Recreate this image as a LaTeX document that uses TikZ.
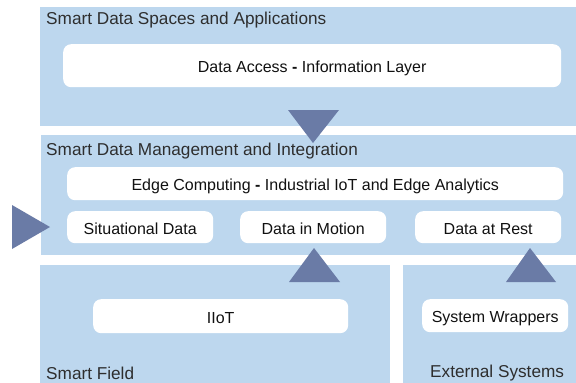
\documentclass[tikz,border=0pt]{standalone}
\usepackage{fontspec}
\setmainfont{Liberation Sans}
\definecolor{panelblue}{HTML}{BDD7EE}
\definecolor{tri}{HTML}{6A7BA6}
\definecolor{headtxt}{HTML}{2E2E2E}
\definecolor{boxtxt}{HTML}{111111}
\begin{document}
\begin{tikzpicture}[x=1pt,y=-1pt,
  panel/.style={fill=panelblue, draw=none, anchor=north west, inner sep=0pt},
  wbox/.style={fill=white, draw=none, rounded corners=8pt, anchor=north west, inner sep=0pt, text height=14pt, text depth=0pt, font=\fontsize{16}{18}\selectfont, text=boxtxt},
  head/.style={anchor=west, inner sep=0pt, font=\fontsize{17.2}{19}\selectfont, text=headtxt},
  arrowtri/.style={fill=tri, draw=none}]
\useasboundingbox (0,0) rectangle (576,383);
% panels
\node[panel, minimum width=536pt, minimum height=119pt] (ptop) at (40,7) {};
\node[panel, minimum width=535pt, minimum height=120pt] (pmid) at (41,135) {};
\node[panel, minimum width=350pt, minimum height=118pt] (pfield) at (40,265) {};
\node[panel, minimum width=173pt, minimum height=118pt] (pext) at (403,265) {};
% headings
\node[head] (htop) at (46,20) {Smart Data Spaces and Applications};
\node[head] (hmid) at (46,151) {Smart Data Management and Integration};
\node[head] (hfield) at (46,373) {Smart Field};
\node[head] (hext) at (430,373) {External Systems};
% boxes
\node[wbox, minimum width=498pt, minimum height=43pt] (access) at (63,44) {Data Access \textbf{-} Information Layer};
\node[wbox, minimum width=496pt, minimum height=33pt] (edge) at (67,167) {Edge Computing \textbf{-} Industrial IoT and Edge Analytics};
\node[wbox, minimum width=146pt, minimum height=32pt] (sit) at (67,211) {Situational Data};
\node[wbox, minimum width=146pt, minimum height=32pt] (motion) at (240,211) {Data in Motion};
\node[wbox, minimum width=146pt, minimum height=32pt] (rest) at (415,211) {Data at Rest};
\node[wbox, minimum width=255pt, minimum height=34pt] (iiot) at (93,299) {IIoT};
\node[wbox, minimum width=146pt, minimum height=33pt] (wrap) at (422,299) {System Wrappers};
% triangles
\fill[arrowtri] (288,110) -- (339,110) -- (313,143) -- cycle;
\fill[arrowtri] (12,205) -- (12,249) -- (50,227) -- cycle;
\fill[arrowtri] (289,282) -- (340,282) -- (314,248) -- cycle;
\fill[arrowtri] (506,282) -- (556,282) -- (530,248) -- cycle;
\end{tikzpicture}
\end{document}
